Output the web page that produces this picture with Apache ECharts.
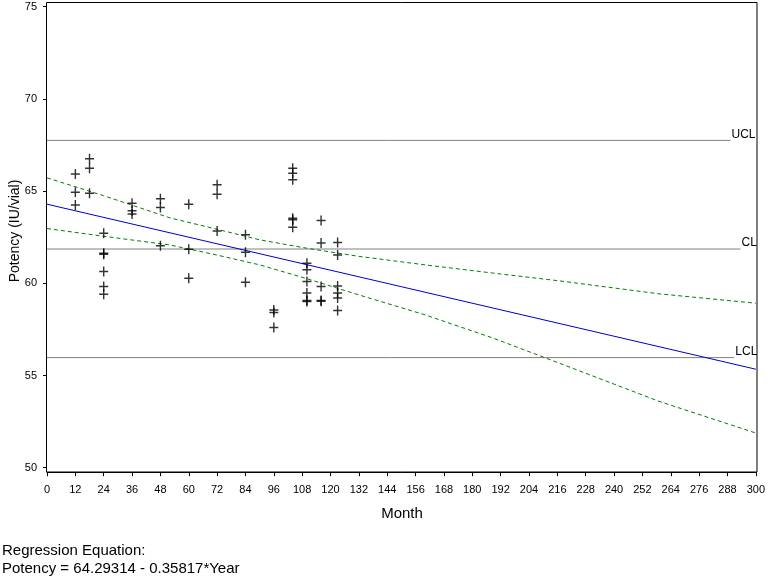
<!DOCTYPE html>
<html>
<head>
<meta charset="utf-8">
<script src="https://cdn.jsdelivr.net/npm/echarts@6/dist/echarts.min.js"></script>
<style>
html,body{margin:0;padding:0;background:#fff;}
#chart{width:768px;height:576px;}
</style>
</head>
<body>
<div id="chart"></div>
<script>
// ---- data ----
const pointMonth = [
  12,12,12,
  18,18,18,
  24,24,24,24,24,24,
  36,36,36,
  48,48,48,
  60,60,60,
  72,72,72,
  84,84,84,
  96,96,96,
  104,104,104,104,104,104,
  110,110,110,110,110,110,
  116,116,116,116,116,
  123,123,123,123,123,123
];
const pointPotency = [
  65.93,64.94,64.24,
  66.75,66.24,64.89,
  62.72,61.63,61.58,60.64,59.82,59.41,
  64.34,63.93,63.76,
  64.58,64.11,62.03,
  64.29,61.85,60.28,
  65.34,64.83,62.84,
  62.63,61.69,60.06,
  58.55,58.42,57.60,
  66.24,65.97,65.61,63.53,63.44,63.04,
  61.09,60.73,60.10,59.47,59.07,59.01,
  63.40,62.18,59.82,59.07,59.02,
  62.21,61.54,59.86,59.47,59.20,58.52
];
const regMonth = [0, 300];
const regPotency = [64.29, 55.34];
const bandMonth = [0, 24, 52, 72, 90, 110, 132, 160, 189, 217, 259, 300];
const upperBand = [65.72, 64.75, 63.55, 62.93, 62.36, 61.90, 61.46, 61.00, 60.55, 60.13, 59.43, 58.92];
const lowerBand = [62.97, 62.55, 62.08, 61.53, 61.00, 60.25, 59.37, 58.29, 57.02, 55.66, 53.60, 51.88];
const refNames = ['UCL', 'CL', 'LCL'];
const refValues = [67.75, 61.86, 55.97];
const refEndMonth = [289.3, 293.5, 290.9];
const xTicks = {min: 0, max: 300, step: 12};
const yTicks = {min: 50, max: 75, step: 5};

const font = '"Liberation Sans", Arial, sans-serif';
const zip = (a, b) => a.map((v, i) => [v, b[i]]);

const series = [];
refNames.forEach((n, i) => {
  series.push({
    type: 'line', name: n, silent: true,
    data: [[xTicks.min, refValues[i]], [refEndMonth[i], refValues[i]]],
    symbol: 'none',
    lineStyle: {color: '#808080', width: 1},
    label: {show: false},
    endLabel: {
      show: true, formatter: n, color: '#000', fontFamily: font, fontSize: 12,
      distance: 1, offset: [0, -6]
    },
    z: 1
  });
});
series.push({
  type: 'line', name: 'upper', data: zip(bandMonth, upperBand), symbol: 'none',
  lineStyle: {color: '#008000', width: 1, type: [4, 3]}, z: 2
});
series.push({
  type: 'line', name: 'lower', data: zip(bandMonth, lowerBand), symbol: 'none',
  lineStyle: {color: '#008000', width: 1, type: [4, 3]}, z: 2
});
series.push({
  type: 'line', name: 'reg', data: zip(regMonth, regPotency), symbol: 'none',
  lineStyle: {color: '#0000cc', width: 1}, z: 3
});
series.push({
  type: 'scatter', name: 'obs', data: zip(pointMonth, pointPotency),
  symbol: 'path://M4,0h1.5v10h-1.5z M0,4.25h9.5v1.5h-9.5z',
  symbolSize: [9, 10],
  itemStyle: {color: '#000'}, z: 4
});

const chart = echarts.init(document.getElementById('chart'));
chart.setOption({
  animation: false,
  backgroundColor: '#fff',
  grid: {left: 47, right: 12, top: 6.7, bottom: 108.3, containLabel: false},
  xAxis: {
    type: 'value', min: xTicks.min, max: xTicks.max, interval: xTicks.step,
    offset: 4.5,
    axisLine: {show: true, lineStyle: {color: '#000'}},
    axisTick: {show: true, length: 4, lineStyle: {color: '#000'}},
    axisLabel: {color: '#000', fontFamily: font, fontSize: 11, margin: 12, showMaxLabel: true, showMinLabel: true},
    splitLine: {show: false}
  },
  yAxis: {
    type: 'value', min: yTicks.min, max: yTicks.max, interval: yTicks.step,
    axisLine: {show: false},
    axisTick: {show: true, length: 4, lineStyle: {color: '#000'}},
    axisLabel: {color: '#000', fontFamily: font, fontSize: 11, margin: 10},
    splitLine: {show: false}
  },
  series: series,
  graphic: [
    {type: 'rect', silent: true, z: 100,
     shape: {x: 46.5, y: 2.5, width: 710.5, height: 469.5},
     style: {fill: 'none', stroke: '#000', lineWidth: 1}},
    {type: 'text', x: 15, y: 231, rotation: Math.PI / 2, z: 100,
     style: {text: 'Potency (IU/vial)', fill: '#000', font: '14px ' + font, textAlign: 'center', textVerticalAlign: 'middle'}},
    {type: 'text', x: 402, y: 514, z: 100,
     style: {text: 'Month', fill: '#000', font: '15px ' + font, textAlign: 'center', textVerticalAlign: 'middle'}},
    {type: 'text', x: 2, y: 551, z: 100,
     style: {text: 'Regression Equation:', fill: '#000', font: '15px ' + font, textAlign: 'left', textVerticalAlign: 'middle'}},
    {type: 'text', x: 2, y: 569, z: 100,
     style: {text: 'Potency = 64.29314 - 0.35817*Year', fill: '#000', font: '15px ' + font, textAlign: 'left', textVerticalAlign: 'middle'}}
  ]
});
</script>
</body>
</html>
